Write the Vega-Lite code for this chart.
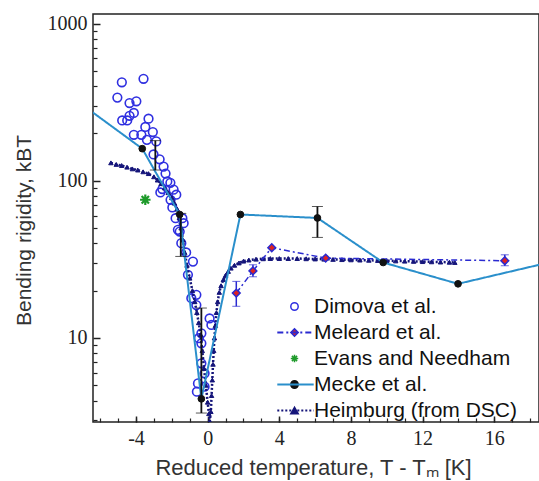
{
  "$schema": "https://vega.github.io/schema/vega-lite/v6.json",
  "width": 446,
  "height": 408,
  "autosize": {"type": "none"},
  "padding": {"left": 93, "top": 14, "right": 0, "bottom": 59},
  "background": "white",
  "config": {"view": {"stroke": "#222", "strokeWidth": 1.5}, "axis": {"grid": false, "domain": false}},
  "datasets": {
    "pts": [
      {"s": "Dimova et al.", "t": -4.79, "k": 423}, {"s": "Dimova et al.", "t": -3.58, "k": 445}, {"s": "Dimova et al.", "t": -5.04, "k": 338},
      {"s": "Dimova et al.", "t": -4.36, "k": 312}, {"s": "Dimova et al.", "t": -3.98, "k": 320}, {"s": "Dimova et al.", "t": -4.12, "k": 270},
      {"s": "Dimova et al.", "t": -4.36, "k": 259}, {"s": "Dimova et al.", "t": -4.77, "k": 242}, {"s": "Dimova et al.", "t": -4.49, "k": 242},
      {"s": "Dimova et al.", "t": -3.30, "k": 248}, {"s": "Dimova et al.", "t": -3.48, "k": 220}, {"s": "Dimova et al.", "t": -4.12, "k": 196},
      {"s": "Dimova et al.", "t": -3.70, "k": 196}, {"s": "Dimova et al.", "t": -3.06, "k": 204}, {"s": "Dimova et al.", "t": -3.39, "k": 182},
      {"s": "Dimova et al.", "t": -2.87, "k": 178}, {"s": "Dimova et al.", "t": -3.02, "k": 147}, {"s": "Dimova et al.", "t": -2.68, "k": 137},
      {"s": "Dimova et al.", "t": -2.46, "k": 123}, {"s": "Dimova et al.", "t": -2.35, "k": 111}, {"s": "Dimova et al.", "t": -2.25, "k": 99},
      {"s": "Dimova et al.", "t": -2.08, "k": 97}, {"s": "Dimova et al.", "t": -2.53, "k": 88.5}, {"s": "Dimova et al.", "t": -1.90, "k": 87.8},
      {"s": "Dimova et al.", "t": -2.64, "k": 84.3}, {"s": "Dimova et al.", "t": -1.75, "k": 81.5}, {"s": "Dimova et al.", "t": -2.07, "k": 75.7},
      {"s": "Dimova et al.", "t": -1.97, "k": 67.6}, {"s": "Dimova et al.", "t": -1.79, "k": 57.8}, {"s": "Dimova et al.", "t": -1.41, "k": 57.8},
      {"s": "Dimova et al.", "t": -1.34, "k": 53.7}, {"s": "Dimova et al.", "t": -1.66, "k": 48.7}, {"s": "Dimova et al.", "t": -1.56, "k": 47.5},
      {"s": "Dimova et al.", "t": -1.47, "k": 40.1}, {"s": "Dimova et al.", "t": -1.2, "k": 35}, {"s": "Dimova et al.", "t": -0.82, "k": 30.6},
      {"s": "Dimova et al.", "t": -1.10, "k": 25.2}, {"s": "Dimova et al.", "t": -0.91, "k": 17.9}, {"s": "Dimova et al.", "t": -0.63, "k": 18.8},
      {"s": "Dimova et al.", "t": -0.63, "k": 16.2}, {"s": "Dimova et al.", "t": 0.11, "k": 13.3}, {"s": "Dimova et al.", "t": 0.21, "k": 12.1},
      {"s": "Dimova et al.", "t": -0.35, "k": 10.7}, {"s": "Dimova et al.", "t": -0.49, "k": 9.96}, {"s": "Dimova et al.", "t": -0.35, "k": 9.25},
      {"s": "Dimova et al.", "t": -0.35, "k": 6.9}, {"s": "Dimova et al.", "t": -0.17, "k": 5.96}, {"s": "Dimova et al.", "t": -0.54, "k": 5.14},
      {"s": "Dimova et al.", "t": -0.60, "k": 4.55}, {"s": "Dimova et al.", "t": -0.17, "k": 4.9},
      {"s": "Meleard et al.", "ln": "m", "t": 1.60, "k": 19.3}, {"s": "Meleard et al.", "ln": "m", "t": 2.53, "k": 26.7},
      {"s": "Meleard et al.", "ln": "m", "t": 3.58, "k": 37.5}, {"s": "Meleard et al.", "ln": "m", "t": 6.59, "k": 32.2},
      {"s": "Meleard et al.", "ln": "m", "t": 16.59, "k": 31.0},
      {"s": "Evans and Needham", "t": -3.48, "k": 75.7},
      {"s": "Mecke et al.", "ln": "k", "t": -8, "k": 369}, {"s": "Mecke et al.", "ln": "k", "t": -3.65, "k": 160},
      {"s": "Mecke et al.", "ln": "k", "t": -1.56, "k": 61}, {"s": "Mecke et al.", "ln": "k", "t": -0.35, "k": 4.1},
      {"s": "Mecke et al.", "ln": "k", "t": 1.83, "k": 61}, {"s": "Mecke et al.", "ln": "k", "t": 6.13, "k": 58},
      {"s": "Mecke et al.", "ln": "k", "t": 9.8, "k": 30.2}, {"s": "Mecke et al.", "ln": "k", "t": 13.98, "k": 22.1},
      {"s": "Mecke et al.", "ln": "k", "t": 20, "k": 32},
      {"s": "Heimburg (from DSC)", "ln": "h", "t": -5.4, "k": 130}, {"s": "Heimburg (from DSC)", "ln": "h", "t": -5.1, "k": 127},
      {"s": "Heimburg (from DSC)", "ln": "h", "t": -4.8, "k": 125}, {"s": "Heimburg (from DSC)", "ln": "h", "t": -4.5, "k": 122},
      {"s": "Heimburg (from DSC)", "ln": "h", "t": -4.2, "k": 119}, {"s": "Heimburg (from DSC)", "ln": "h", "t": -3.9, "k": 117},
      {"s": "Heimburg (from DSC)", "ln": "h", "t": -3.6, "k": 114}, {"s": "Heimburg (from DSC)", "ln": "h", "t": -3.3, "k": 111},
      {"s": "Heimburg (from DSC)", "ln": "h", "t": -3.0, "k": 106}, {"s": "Heimburg (from DSC)", "ln": "h", "t": -2.8, "k": 101},
      {"s": "Heimburg (from DSC)", "ln": "h", "t": -2.6, "k": 96}, {"s": "Heimburg (from DSC)", "ln": "h", "t": -2.4, "k": 90},
      {"s": "Heimburg (from DSC)", "ln": "h", "t": -2.2, "k": 84}, {"s": "Heimburg (from DSC)", "ln": "h", "t": -2.0, "k": 78},
      {"s": "Heimburg (from DSC)", "ln": "h", "t": -1.85, "k": 72}, {"s": "Heimburg (from DSC)", "ln": "h", "t": -1.7, "k": 66},
      {"s": "Heimburg (from DSC)", "ln": "h", "t": -1.58, "k": 58}, {"s": "Heimburg (from DSC)", "ln": "h", "t": -1.48, "k": 50},
      {"s": "Heimburg (from DSC)", "ln": "h", "t": -1.38, "k": 42}, {"s": "Heimburg (from DSC)", "ln": "h", "t": -1.28, "k": 35},
      {"s": "Heimburg (from DSC)", "ln": "h", "t": -1.15, "k": 29}, {"s": "Heimburg (from DSC)", "ln": "h", "t": -1.0, "k": 24},
      {"s": "Heimburg (from DSC)", "ln": "h", "t": -0.85, "k": 20}, {"s": "Heimburg (from DSC)", "ln": "h", "t": -0.72, "k": 17},
      {"s": "Heimburg (from DSC)", "ln": "h", "t": -0.6, "k": 14.5}, {"s": "Heimburg (from DSC)", "ln": "h", "t": -0.5, "k": 12.5},
      {"s": "Heimburg (from DSC)", "ln": "h", "t": -0.4, "k": 10.5}, {"s": "Heimburg (from DSC)", "ln": "h", "t": -0.3, "k": 8.3},
      {"s": "Heimburg (from DSC)", "ln": "h", "t": -0.2, "k": 6.4}, {"s": "Heimburg (from DSC)", "ln": "h", "t": -0.1, "k": 5.0},
      {"s": "Heimburg (from DSC)", "ln": "h", "t": 0.0, "k": 3.9}, {"s": "Heimburg (from DSC)", "ln": "h", "t": 0.07, "k": 3.3},
      {"s": "Heimburg (from DSC)", "ln": "h", "t": 0.12, "k": 2.95}, {"s": "Heimburg (from DSC)", "ln": "h", "t": 0.18, "k": 3.4},
      {"s": "Heimburg (from DSC)", "ln": "h", "t": 0.22, "k": 4.3}, {"s": "Heimburg (from DSC)", "ln": "h", "t": 0.26, "k": 5.4},
      {"s": "Heimburg (from DSC)", "ln": "h", "t": 0.3, "k": 6.8}, {"s": "Heimburg (from DSC)", "ln": "h", "t": 0.34, "k": 8.3},
      {"s": "Heimburg (from DSC)", "ln": "h", "t": 0.38, "k": 10}, {"s": "Heimburg (from DSC)", "ln": "h", "t": 0.43, "k": 12},
      {"s": "Heimburg (from DSC)", "ln": "h", "t": 0.49, "k": 14.5}, {"s": "Heimburg (from DSC)", "ln": "h", "t": 0.56, "k": 17},
      {"s": "Heimburg (from DSC)", "ln": "h", "t": 0.65, "k": 19.5}, {"s": "Heimburg (from DSC)", "ln": "h", "t": 0.75, "k": 21.5},
      {"s": "Heimburg (from DSC)", "ln": "h", "t": 0.88, "k": 23.5}, {"s": "Heimburg (from DSC)", "ln": "h", "t": 1.0, "k": 25},
      {"s": "Heimburg (from DSC)", "ln": "h", "t": 1.15, "k": 26.5}, {"s": "Heimburg (from DSC)", "ln": "h", "t": 1.3, "k": 27.8},
      {"s": "Heimburg (from DSC)", "ln": "h", "t": 1.5, "k": 29}, {"s": "Heimburg (from DSC)", "ln": "h", "t": 1.75, "k": 30},
      {"s": "Heimburg (from DSC)", "ln": "h", "t": 2.0, "k": 30.8}, {"s": "Heimburg (from DSC)", "ln": "h", "t": 2.3, "k": 31.3},
      {"s": "Heimburg (from DSC)", "ln": "h", "t": 2.7, "k": 31.7}, {"s": "Heimburg (from DSC)", "ln": "h", "t": 3.1, "k": 31.9},
      {"s": "Heimburg (from DSC)", "ln": "h", "t": 3.5, "k": 32}, {"s": "Heimburg (from DSC)", "ln": "h", "t": 4.0, "k": 32},
      {"s": "Heimburg (from DSC)", "ln": "h", "t": 4.5, "k": 32}, {"s": "Heimburg (from DSC)", "ln": "h", "t": 5.0, "k": 32},
      {"s": "Heimburg (from DSC)", "ln": "h", "t": 5.5, "k": 31.9}, {"s": "Heimburg (from DSC)", "ln": "h", "t": 6.0, "k": 31.8},
      {"s": "Heimburg (from DSC)", "ln": "h", "t": 6.5, "k": 31.7}, {"s": "Heimburg (from DSC)", "ln": "h", "t": 7.0, "k": 31.6},
      {"s": "Heimburg (from DSC)", "ln": "h", "t": 7.5, "k": 31.5}, {"s": "Heimburg (from DSC)", "ln": "h", "t": 8.0, "k": 31.4},
      {"s": "Heimburg (from DSC)", "ln": "h", "t": 8.5, "k": 31.3}, {"s": "Heimburg (from DSC)", "ln": "h", "t": 9.0, "k": 31.2},
      {"s": "Heimburg (from DSC)", "ln": "h", "t": 9.5, "k": 31.1}, {"s": "Heimburg (from DSC)", "ln": "h", "t": 10.0, "k": 31.0},
      {"s": "Heimburg (from DSC)", "ln": "h", "t": 10.5, "k": 30.9}, {"s": "Heimburg (from DSC)", "ln": "h", "t": 11.0, "k": 30.8},
      {"s": "Heimburg (from DSC)", "ln": "h", "t": 11.5, "k": 30.7}, {"s": "Heimburg (from DSC)", "ln": "h", "t": 12.0, "k": 30.6},
      {"s": "Heimburg (from DSC)", "ln": "h", "t": 12.5, "k": 30.5}, {"s": "Heimburg (from DSC)", "ln": "h", "t": 13.0, "k": 30.4},
      {"s": "Heimburg (from DSC)", "ln": "h", "t": 13.5, "k": 30.3}, {"s": "Heimburg (from DSC)", "ln": "h", "t": 13.8, "k": 30.2}
    ],
    "err": [
      {"src": "k", "t": -2.92, "lo": 117, "hi": 180},
      {"src": "k", "t": -1.5, "lo": 33, "hi": 62},
      {"src": "k", "t": -0.35, "lo": 3.33, "hi": 15.5},
      {"src": "k", "t": 6.13, "lo": 43.6, "hi": 68.6},
      {"src": "m", "t": 1.6, "lo": 15.9, "hi": 22.9},
      {"src": "m", "t": 2.53, "lo": 24.5, "hi": 29.2},
      {"src": "m", "t": 16.59, "lo": 28.8, "hi": 33.8}
    ]
  },
  "resolve": {"axis": {"x": "independent", "y": "independent"}},
  "layer": [
    {
      "data": {"name": "pts"},
      "transform": [{"filter": "datum.s == 'Dimova et al.'"}],
      "mark": {"type": "point", "filled": true, "size": 75, "strokeWidth": 1.6, "opacity": 1, "clip": true},
      "encoding": {
        "x": {"field": "t", "type": "quantitative", "scale": {"domain": [-6.4, 18.5], "nice": false, "zero": false},
              "axis": {"orient": "bottom", "values": [-6,-5,-4,-3,-2,-1,0,1,2,3,4,5,6,7,8,9,10,11,12,13,14,15,16,17,18], "labels": false, "ticks": true, "tickSize": -4, "tickColor": "#222", "tickWidth": 1.2, "title": null, "domain": false, "grid": false}},
        "y": {"field": "k", "type": "quantitative", "scale": {"type": "log", "domain": [2.92, 1150], "nice": false},
              "axis": {"orient": "left", "values": [3,4,5,6,7,8,9,20,30,40,50,60,70,80,90,200,300,400,500,600,700,800,900], "labels": false, "ticks": true, "tickSize": -4, "tickColor": "#222", "tickWidth": 1.2, "title": null, "domain": false, "grid": false}},
        "shape": {"field": "s", "type": "nominal",
                  "scale": {"domain": ["Dimova et al.", "Meleard et al.", "Evans and Needham", "Mecke et al.", "Heimburg (from DSC)"], "range": ["circle", "diamond", "M-1,0H1M0,-1V1M-0.7,-0.7L0.7,0.7M-0.7,0.7L0.7,-0.7", "circle", "triangle-up"]},
                  "legend": {"orient": "none", "legendX": 191, "legendY": 282, "title": null, "labelFont": "Liberation Sans", "labelFontSize": 21, "labelColor": "#111", "labelLimit": 0, "symbolSize": 55, "symbolStrokeWidth": 1.5, "symbolOpacity": 1, "labelOffset": 9, "rowPadding": 4, "padding": 0}},
        "fill": {"field": "s", "type": "nominal",
                 "scale": {"domain": ["Dimova et al.", "Meleard et al.", "Evans and Needham", "Mecke et al.", "Heimburg (from DSC)"], "range": ["transparent", "#dd2222", "transparent", "#111111", "#15157a"]},
                 "legend": {"orient": "none", "legendX": 191, "legendY": 282, "title": null, "labelFont": "Liberation Sans", "labelFontSize": 21, "labelColor": "#111", "labelLimit": 0, "symbolSize": 55, "symbolStrokeWidth": 1.5, "symbolOpacity": 1, "labelOffset": 9, "rowPadding": 4, "padding": 0}},
        "stroke": {"field": "s", "type": "nominal",
                   "scale": {"domain": ["Dimova et al.", "Meleard et al.", "Evans and Needham", "Mecke et al.", "Heimburg (from DSC)"], "range": ["#2f2fe0", "#2a2ad0", "#1e9a2a", "#111111", "#15157a"]},
                   "legend": {"orient": "none", "legendX": 191, "legendY": 282, "title": null, "labelFont": "Liberation Sans", "labelFontSize": 21, "labelColor": "#111", "labelLimit": 0, "symbolSize": 55, "symbolStrokeWidth": 1.5, "symbolOpacity": 1, "labelOffset": 9, "rowPadding": 4, "padding": 0}}
      }
    },
    {
      "data": {"name": "pts"},
      "transform": [{"filter": "datum.s == 'Heimburg (from DSC)'"}],
      "mark": {"type": "point", "filled": true, "size": 20, "strokeWidth": 1, "opacity": 1, "clip": true},
      "encoding": {
        "x": {"field": "t", "type": "quantitative", "scale": {"domain": [-6.4, 18.5], "nice": false, "zero": false},
              "axis": {"orient": "bottom", "values": [-4, 0, 4, 8, 12, 16], "labelExpr": "'' + datum.value", "ticks": false, "domain": false, "grid": false, "labelFont": "Liberation Serif", "labelFontSize": 20, "labelColor": "#222", "labelPadding": 6,
                       "title": "Reduced temperature, T - Tₘ [K]", "titleFont": "Liberation Sans", "titleFontSize": 22, "titleFontWeight": "normal", "titleColor": "#333", "titleX": 220, "titleY": 52, "titleBaseline": "alphabetic", "titleAlign": "center"}},
        "y": {"field": "k", "type": "quantitative", "scale": {"type": "log", "domain": [2.92, 1150], "nice": false},
              "axis": {"orient": "left", "values": [10, 100, 1000], "labelExpr": "'' + datum.value", "ticks": false, "domain": false, "grid": false, "labelFont": "Liberation Serif", "labelFontSize": 20, "labelColor": "#222", "labelPadding": 6,
                       "title": "Bending rigidity, kBT", "titleFont": "Liberation Sans", "titleFontSize": 21, "titleFontWeight": "normal", "titleColor": "#333", "titleX": -69, "titleY": 216, "titleAngle": -90, "titleBaseline": "middle", "titleAlign": "center"}},
        "shape": {"field": "s", "type": "nominal", "scale": {"domain": ["Dimova et al.", "Meleard et al.", "Evans and Needham", "Mecke et al.", "Heimburg (from DSC)"], "range": ["circle", "diamond", "M-1,0H1M0,-1V1M-0.7,-0.7L0.7,0.7M-0.7,0.7L0.7,-0.7", "circle", "triangle-up"]}},
        "fill": {"field": "s", "type": "nominal", "scale": {"domain": ["Dimova et al.", "Meleard et al.", "Evans and Needham", "Mecke et al.", "Heimburg (from DSC)"], "range": ["transparent", "#dd2222", "transparent", "#111111", "#15157a"]}},
        "stroke": {"field": "s", "type": "nominal", "scale": {"domain": ["Dimova et al.", "Meleard et al.", "Evans and Needham", "Mecke et al.", "Heimburg (from DSC)"], "range": ["#2f2fe0", "#2a2ad0", "#1e9a2a", "#111111", "#15157a"]}}
      }
    },
    {
      "data": {"name": "pts"},
      "transform": [{"filter": "datum.s == 'Heimburg (from DSC)'"}],
      "mark": {"type": "line", "strokeWidth": 2.5, "clip": true},
      "encoding": {
        "x": {"field": "t", "type": "quantitative", "scale": {"domain": [-6.4, 18.5], "nice": false, "zero": false},
              "axis": {"orient": "bottom", "values": [-4, 0, 4, 8, 12, 16], "labels": false, "ticks": true, "tickSize": -6, "tickColor": "#222", "tickWidth": 1.5, "title": null, "domain": false, "grid": false}},
        "y": {"field": "k", "type": "quantitative", "scale": {"type": "log", "domain": [2.92, 1150], "nice": false},
              "axis": {"orient": "left", "values": [10, 100, 1000], "labels": false, "ticks": true, "tickSize": -7, "tickColor": "#222", "tickWidth": 1.5, "title": null, "domain": false, "grid": false}},
        "color": {"field": "ln", "type": "nominal", "scale": {"domain": ["d", "m", "e", "k", "h"], "range": ["transparent", "#2a2ad0", "transparent", "#2a8fcb", "#15157a"]},
                  "legend": {"orient": "none", "legendX": 192, "legendY": 282, "title": null, "labelFontSize": 21, "labelExpr": "''", "symbolType": "M-5.2,0H5.2", "symbolSize": 49, "symbolStrokeWidth": 2, "rowPadding": 4, "padding": 0}},
        "strokeDash": {"field": "ln", "type": "nominal", "scale": {"domain": ["d", "m", "e", "k", "h"], "range": [[1, 0], [6, 3, 2, 3], [1, 0], [1, 0], [2, 2]]},
                  "legend": {"orient": "none", "legendX": 192, "legendY": 282, "title": null, "labelFontSize": 21, "labelExpr": "''", "symbolType": "M-5.2,0H5.2", "symbolSize": 49, "symbolStrokeWidth": 2, "rowPadding": 4, "padding": 0}}
      }
    },
    {
      "data": {"name": "pts"},
      "transform": [{"filter": "datum.s == 'Meleard et al.'"}],
      "mark": {"type": "line", "strokeWidth": 1.5, "clip": true},
      "encoding": {
        "x": {"field": "t", "type": "quantitative", "axis": null},
        "y": {"field": "k", "type": "quantitative", "axis": null},
        "color": {"field": "ln", "type": "nominal", "scale": {"domain": ["d", "m", "e", "k", "h"], "range": ["transparent", "#2a2ad0", "transparent", "#2a8fcb", "#15157a"]}},
        "strokeDash": {"field": "ln", "type": "nominal", "scale": {"domain": ["d", "m", "e", "k", "h"], "range": [[1, 0], [6, 3, 2, 3], [1, 0], [1, 0], [2, 2]]}}
      }
    },
    {
      "data": {"name": "err"},
      "transform": [{"filter": "datum.src == 'm'"}],
      "mark": {"type": "errorbar", "color": "#2a2ad0", "ticks": {"size": 8}, "rule": {"strokeWidth": 1.5}},
      "encoding": {
        "x": {"field": "t", "type": "quantitative", "axis": null},
        "y": {"field": "lo", "type": "quantitative", "axis": null},
        "y2": {"field": "hi"}
      }
    },
    {
      "data": {"name": "pts"},
      "transform": [{"filter": "datum.s == 'Meleard et al.'"}],
      "mark": {"type": "point", "filled": true, "size": 60, "strokeWidth": 1.5, "opacity": 1, "clip": true},
      "encoding": {
        "x": {"field": "t", "type": "quantitative", "axis": null},
        "y": {"field": "k", "type": "quantitative", "axis": null},
        "shape": {"field": "s", "type": "nominal", "scale": {"domain": ["Dimova et al.", "Meleard et al.", "Evans and Needham", "Mecke et al.", "Heimburg (from DSC)"], "range": ["circle", "diamond", "M-1,0H1M0,-1V1M-0.7,-0.7L0.7,0.7M-0.7,0.7L0.7,-0.7", "circle", "triangle-up"]}},
        "fill": {"field": "s", "type": "nominal", "scale": {"domain": ["Dimova et al.", "Meleard et al.", "Evans and Needham", "Mecke et al.", "Heimburg (from DSC)"], "range": ["transparent", "#dd2222", "transparent", "#111111", "#15157a"]}},
        "stroke": {"field": "s", "type": "nominal", "scale": {"domain": ["Dimova et al.", "Meleard et al.", "Evans and Needham", "Mecke et al.", "Heimburg (from DSC)"], "range": ["#2f2fe0", "#2a2ad0", "#1e9a2a", "#111111", "#15157a"]}}
      }
    },
    {
      "data": {"name": "pts"},
      "transform": [{"filter": "datum.s == 'Evans and Needham'"}],
      "mark": {"type": "point", "filled": true, "size": 110, "strokeWidth": 2.2, "opacity": 1, "clip": true},
      "encoding": {
        "x": {"field": "t", "type": "quantitative", "axis": null},
        "y": {"field": "k", "type": "quantitative", "axis": null},
        "shape": {"field": "s", "type": "nominal", "scale": {"domain": ["Dimova et al.", "Meleard et al.", "Evans and Needham", "Mecke et al.", "Heimburg (from DSC)"], "range": ["circle", "diamond", "M-1,0H1M0,-1V1M-0.7,-0.7L0.7,0.7M-0.7,0.7L0.7,-0.7", "circle", "triangle-up"]}},
        "fill": {"field": "s", "type": "nominal", "scale": {"domain": ["Dimova et al.", "Meleard et al.", "Evans and Needham", "Mecke et al.", "Heimburg (from DSC)"], "range": ["transparent", "#dd2222", "transparent", "#111111", "#15157a"]}},
        "stroke": {"field": "s", "type": "nominal", "scale": {"domain": ["Dimova et al.", "Meleard et al.", "Evans and Needham", "Mecke et al.", "Heimburg (from DSC)"], "range": ["#2f2fe0", "#2a2ad0", "#1e9a2a", "#111111", "#15157a"]}}
      }
    },
    {
      "data": {"name": "pts"},
      "transform": [{"filter": "datum.s == 'Mecke et al.'"}],
      "mark": {"type": "line", "strokeWidth": 2, "clip": true},
      "encoding": {
        "x": {"field": "t", "type": "quantitative", "axis": null},
        "y": {"field": "k", "type": "quantitative", "axis": null},
        "color": {"field": "ln", "type": "nominal", "scale": {"domain": ["d", "m", "e", "k", "h"], "range": ["transparent", "#2a2ad0", "transparent", "#2a8fcb", "#15157a"]}},
        "strokeDash": {"field": "ln", "type": "nominal", "scale": {"domain": ["d", "m", "e", "k", "h"], "range": [[1, 0], [6, 3, 2, 3], [1, 0], [1, 0], [2, 2]]}}
      }
    },
    {
      "data": {"name": "err"},
      "transform": [{"filter": "datum.src == 'k'"}],
      "mark": {"type": "errorbar", "color": "#111111", "ticks": {"size": 11}, "rule": {"strokeWidth": 1.8}},
      "encoding": {
        "x": {"field": "t", "type": "quantitative", "axis": null},
        "y": {"field": "lo", "type": "quantitative", "axis": null},
        "y2": {"field": "hi"}
      }
    },
    {
      "data": {"name": "pts"},
      "transform": [{"filter": "datum.s == 'Mecke et al.'"}],
      "mark": {"type": "point", "filled": true, "size": 45, "strokeWidth": 1, "opacity": 1, "clip": true},
      "encoding": {
        "x": {"field": "t", "type": "quantitative", "axis": null},
        "y": {"field": "k", "type": "quantitative", "axis": null},
        "shape": {"field": "s", "type": "nominal", "scale": {"domain": ["Dimova et al.", "Meleard et al.", "Evans and Needham", "Mecke et al.", "Heimburg (from DSC)"], "range": ["circle", "diamond", "M-1,0H1M0,-1V1M-0.7,-0.7L0.7,0.7M-0.7,0.7L0.7,-0.7", "circle", "triangle-up"]}},
        "fill": {"field": "s", "type": "nominal", "scale": {"domain": ["Dimova et al.", "Meleard et al.", "Evans and Needham", "Mecke et al.", "Heimburg (from DSC)"], "range": ["transparent", "#dd2222", "transparent", "#111111", "#15157a"]}},
        "stroke": {"field": "s", "type": "nominal", "scale": {"domain": ["Dimova et al.", "Meleard et al.", "Evans and Needham", "Mecke et al.", "Heimburg (from DSC)"], "range": ["#2f2fe0", "#2a2ad0", "#1e9a2a", "#111111", "#15157a"]}}
      }
    }
  ]
}
